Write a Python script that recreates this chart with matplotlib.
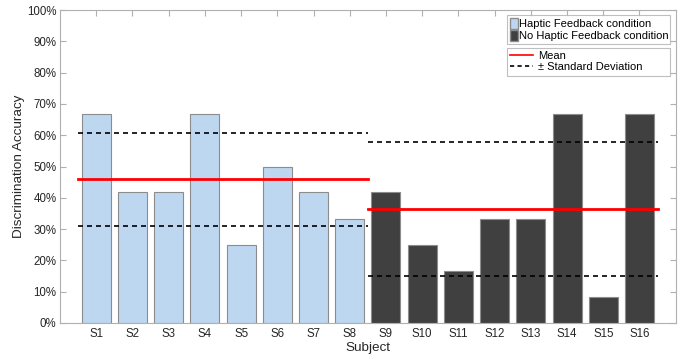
import numpy as np
import matplotlib.pyplot as plt
from matplotlib.patches import Patch
from matplotlib.lines import Line2D

plt.rcParams['font.family'] = ['Liberation Sans', 'DejaVu Sans']

subjects = [f"S{i}" for i in range(1, 17)]
haptic = [66.7, 41.7, 41.7, 66.7, 25.0, 50.0, 41.7, 33.3]
no_haptic = [41.7, 25.0, 16.7, 33.3, 33.3, 66.7, 8.3, 66.7]
y_ticks = list(range(0, 101, 10))

fig, ax = plt.subplots(figsize=(6.86, 3.6), dpi=100)
fig.subplots_adjust(left=0.0875, right=0.985, top=0.972, bottom=0.103)

x1 = np.arange(1, 9)
x2 = np.arange(9, 17)
ax.bar(x1, haptic, width=0.8, color="#bdd7f1", edgecolor="#8c8c8c", linewidth=0.8, zorder=2)
ax.bar(x2, no_haptic, width=0.8, color="#404040", edgecolor="#8c8c8c", linewidth=0.8, zorder=2)

dash = (0, (3, 2.4))
for xs, vals in ((x1, haptic), (x2, no_haptic)):
    m = np.mean(vals)
    s = np.std(vals, ddof=1)
    lo, hi = xs[0] - 0.5, xs[-1] + 0.5
    ax.plot([lo, hi], [m, m], color="#ff0000", lw=2.0, zorder=3)
    ax.plot([lo, hi], [m - s, m - s], color="black", lw=1.2, ls=dash, zorder=3)
    ax.plot([lo, hi], [m + s, m + s], color="black", lw=1.2, ls=dash, zorder=3)

ax.set_xlim(0, 17)
ax.set_ylim(0, 100)
ax.set_xticks(np.arange(1, 17))
ax.set_xticklabels(subjects)
ax.set_yticks(y_ticks)
ax.set_yticklabels([f"{v}%" for v in y_ticks])
ax.tick_params(direction="in", length=4, color="#b0b0b0", labelsize=8.3, labelcolor="#262626",
               top=True, right=True)
ax.tick_params(axis="y", pad=2.5)
ax.tick_params(axis="x", pad=4)
for sp in ax.spines.values():
    sp.set_color("#b0b0b0")
    sp.set_linewidth(0.8)
ax.set_xlabel("Subject", fontsize=9.7, color="#262626", labelpad=1)
ax.set_ylabel("Discrimination Accuracy", fontsize=9.7, color="#262626", labelpad=1.5)

leg_x0, leg_w = 0.726, 0.265
bar_handles = [Patch(facecolor="#bdd7f1", edgecolor="#8c8c8c", label="Haptic Feedback condition"),
               Patch(facecolor="#404040", edgecolor="#8c8c8c", label="No Haptic Feedback condition")]
leg1 = ax.legend(handles=bar_handles, loc="upper left", mode="expand",
                 bbox_to_anchor=(leg_x0, 0.984 - 0.09, leg_w, 0.09),
                 fontsize=8, frameon=True, fancybox=False, edgecolor="#b0b0b0",
                 handlelength=0.7, handleheight=1.15, handletextpad=0.15, borderpad=0.25,
                 labelspacing=0.05, borderaxespad=0)
leg1.get_frame().set_linewidth(0.8)
ax.add_artist(leg1)

line_handles = [Line2D([], [], color="#ff0000", lw=1.2, label="Mean"),
                Line2D([], [], color="black", lw=1.2, ls=(0, (2.5, 2)), label="± Standard Deviation")]
leg2 = ax.legend(handles=line_handles, loc="upper left", mode="expand",
                 bbox_to_anchor=(leg_x0, 0.879 - 0.09, leg_w, 0.09),
                 fontsize=8, frameon=True, fancybox=False, edgecolor="#b0b0b0",
                 handlelength=2.0, handletextpad=0.5, borderpad=0.3,
                 labelspacing=0.1, borderaxespad=0)
leg2.get_frame().set_linewidth(0.8)

fig.savefig("out.png", dpi=100)
